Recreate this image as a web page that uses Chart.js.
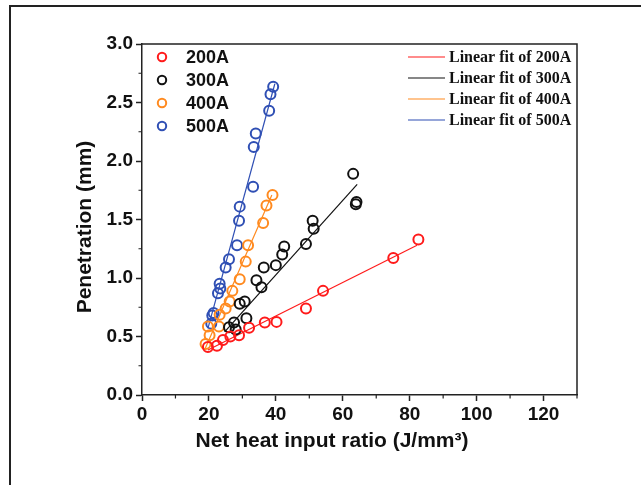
<!DOCTYPE html>
<html>
<head>
<meta charset="utf-8">
<script src="https://cdn.jsdelivr.net/npm/chart.js@4/dist/chart.umd.min.js"></script>
<style>
html,body{margin:0;padding:0;background:#fff;}
#wrap{position:relative;width:641px;height:485px;}
</style>
</head>
<body>
<div id="wrap"><canvas id="c" width="641" height="485"></canvas></div>
<script>
// ---- data ----
const seriesLabels = ['200A', '300A', '400A', '500A'];
const fitLabels = ['Linear fit of 200A', 'Linear fit of 300A', 'Linear fit of 400A', 'Linear fit of 500A'];
const seriesColors = ['#ff1a1a', '#111111', '#ff8a1f', '#2f4fb4'];

const x200 = [19.7, 22.4, 24.2, 26.4, 29.0, 32.0, 36.7, 40.2, 49.0, 54.1, 75.1, 82.6];
const y200 = [0.41, 0.42, 0.47, 0.50, 0.51, 0.575, 0.62, 0.625, 0.74, 0.89, 1.17, 1.33];

const x300 = [26.0, 27.5, 28.0, 31.2, 29.2, 30.7, 34.2, 35.7, 36.4, 40.0, 41.9, 42.5, 49.0, 51.0, 51.3, 63.1, 64.1, 63.9];
const y300 = [0.58, 0.62, 0.56, 0.655, 0.78, 0.80, 0.98, 0.92, 1.09, 1.11, 1.20, 1.27, 1.29, 1.49, 1.42, 1.89, 1.65, 1.63];

const x400 = [19.0, 20.2, 19.7, 23.0, 23.2, 25.0, 26.2, 27.0, 29.2, 31.0, 31.7, 36.2, 37.2, 39.0];
const y400 = [0.435, 0.51, 0.585, 0.585, 0.685, 0.74, 0.80, 0.89, 0.99, 1.14, 1.28, 1.47, 1.62, 1.71];

const x500 = [20.7, 21.0, 21.4, 22.7, 23.4, 23.2, 25.0, 26.0, 28.4, 29.0, 29.2, 33.2, 33.4, 34.0, 38.0, 38.4, 39.2];
const y500 = [0.61, 0.68, 0.70, 0.87, 0.91, 0.95, 1.09, 1.16, 1.28, 1.49, 1.61, 1.78, 2.12, 2.235, 2.43, 2.57, 2.635];

// fitted line end points (x start, x end, y start, y end) as read
const fitX200 = [19.7, 82.2], fitY200 = [0.385, 1.28];
const fitX300 = [24.7, 64.3], fitY300 = [0.54, 1.80];
const fitX400 = [18.7, 38.8], fitY400 = [0.385, 1.71];
const fitX500 = [19.7, 39.7], fitY500 = [0.57, 2.66];

const xTickValues = [0, 20, 40, 60, 80, 100, 120];
const xMinorValues = [10, 30, 50, 70, 90, 110, 130];
const yTickValues = [0.0, 0.5, 1.0, 1.5, 2.0, 2.5, 3.0];
const yMinorValues = [0.25, 0.75, 1.25, 1.75, 2.25, 2.75];

const xTitle = 'Net heat input ratio (J/mm³)';
const yTitle = 'Penetration (mm)';

// ---- build datasets ----
const pts = (xs, ys) => xs.map((x, i) => ({x: x, y: ys[i]}));
const scatterX = [x200, x300, x400, x500];
const scatterY = [y200, y300, y400, y500];
const fitXs = [fitX200, fitX300, fitX400, fitX500];
const fitYs = [fitY200, fitY300, fitY400, fitY500];

const datasets = [];
for (let i = 0; i < 4; i++) {
  datasets.push({
    type: 'line', label: fitLabels[i], data: pts(fitXs[i], fitYs[i]),
    borderColor: seriesColors[i], borderWidth: 1.2, pointRadius: 0, fill: false, order: 1
  });
}
for (let i = 0; i < 4; i++) {
  datasets.push({
    type: 'scatter', label: seriesLabels[i], data: pts(scatterX[i], scatterY[i]),
    borderColor: seriesColors[i], backgroundColor: 'rgba(0,0,0,0)',
    pointRadius: 5, pointBorderWidth: 2, pointStyle: 'circle', order: 0
  });
}

const AXIS = '#222';
const SANS = '"Liberation Sans", Arial, sans-serif';
const SERIF = '"Liberation Serif", "Times New Roman", serif';

const decor = {
  id: 'decor',
  afterDraw(chart) {
    const ctx = chart.ctx;
    const a = chart.chartArea;
    const xs = chart.scales.x, ys = chart.scales.y;
    ctx.save();
    // outer frame (top and left visible)
    ctx.strokeStyle = '#222';
    ctx.lineWidth = 2;
    ctx.beginPath();
    ctx.moveTo(10, 485); ctx.lineTo(10, 6); ctx.lineTo(641, 6);
    ctx.stroke();
    // top and right box lines
    ctx.lineWidth = 1.5;
    ctx.strokeStyle = AXIS;
    ctx.beginPath();
    ctx.moveTo(a.left, a.top); ctx.lineTo(a.right, a.top); ctx.lineTo(a.right, a.bottom);
    ctx.stroke();
    // minor ticks
    ctx.lineWidth = 1.2;
    ctx.beginPath();
    xMinorValues.forEach(v => {
      const px = xs.getPixelForValue(v);
      ctx.moveTo(px, a.bottom); ctx.lineTo(px, a.bottom + 3.5);
    });
    yMinorValues.forEach(v => {
      const py = ys.getPixelForValue(v);
      ctx.moveTo(a.left, py); ctx.lineTo(a.left - 3.5, py);
    });
    ctx.stroke();

    // axis titles
    ctx.fillStyle = '#111';
    ctx.font = 'bold 21px ' + SANS;
    ctx.textAlign = 'center';
    ctx.textBaseline = 'middle';
    ctx.fillText(xTitle, 332, 441);
    ctx.save();
    ctx.translate(85, 227);
    ctx.rotate(-Math.PI / 2);
    ctx.fillText(yTitle, 0, 0);
    ctx.restore();

    // scatter legend
    ctx.textBaseline = 'middle';
    ctx.textAlign = 'left';
    for (let i = 0; i < 4; i++) {
      const y = 57 + i * 23;
      ctx.beginPath();
      ctx.strokeStyle = seriesColors[i];
      ctx.lineWidth = 2;
      ctx.arc(162, y, 4.2, 0, Math.PI * 2);
      ctx.stroke();
      ctx.fillStyle = '#111';
      ctx.font = 'bold 18px ' + SANS;
      ctx.fillText(seriesLabels[i], 186, y + 1);
    }
    // fit legend
    for (let i = 0; i < 4; i++) {
      const y = 57 + i * 21;
      ctx.beginPath();
      ctx.strokeStyle = seriesColors[i];
      ctx.lineWidth = 1.2;
      ctx.moveTo(408, y); ctx.lineTo(445, y);
      ctx.stroke();
      ctx.fillStyle = '#111';
      ctx.font = 'bold 16px ' + SERIF;
      ctx.fillText(fitLabels[i], 449, y + 1);
    }
    ctx.restore();
  }
};

new Chart(document.getElementById('c'), {
  data: {datasets: datasets},
  options: {
    responsive: false,
    animation: false,
    events: [],
    layout: {padding: {left: 0, top: 44, right: 64, bottom: 0}},
    plugins: {legend: {display: false}, tooltip: {enabled: false}},
    scales: {
      x: {
        type: 'linear', min: 0, max: 130,
        afterBuildTicks: s => { s.ticks = xTickValues.map(v => ({value: v})); },
        afterFit: s => { s.height = 90; },
        grid: {drawOnChartArea: false, drawTicks: true, tickLength: 6, tickColor: AXIS, tickWidth: 1.5},
        border: {display: true, color: AXIS, width: 1.5},
        ticks: {color: '#111', padding: 2, font: {family: SANS, size: 19, weight: 'bold'}, maxRotation: 0,
                callback: v => String(v)},
        title: {display: false, text: xTitle}
      },
      y: {
        type: 'linear', min: 0, max: 3.0,
        afterBuildTicks: s => { s.ticks = yTickValues.map(v => ({value: v})); },
        afterFit: s => { s.width = 142; },
        grid: {drawOnChartArea: false, drawTicks: true, tickLength: 6, tickColor: AXIS, tickWidth: 1.5},
        border: {display: true, color: AXIS, width: 1.5},
        ticks: {color: '#111', padding: 3, font: {family: SANS, size: 19, weight: 'bold'},
                callback: v => Number(v).toFixed(1)},
        title: {display: false, text: yTitle}
      }
    }
  },
  plugins: [decor]
});
</script>
</body>
</html>
